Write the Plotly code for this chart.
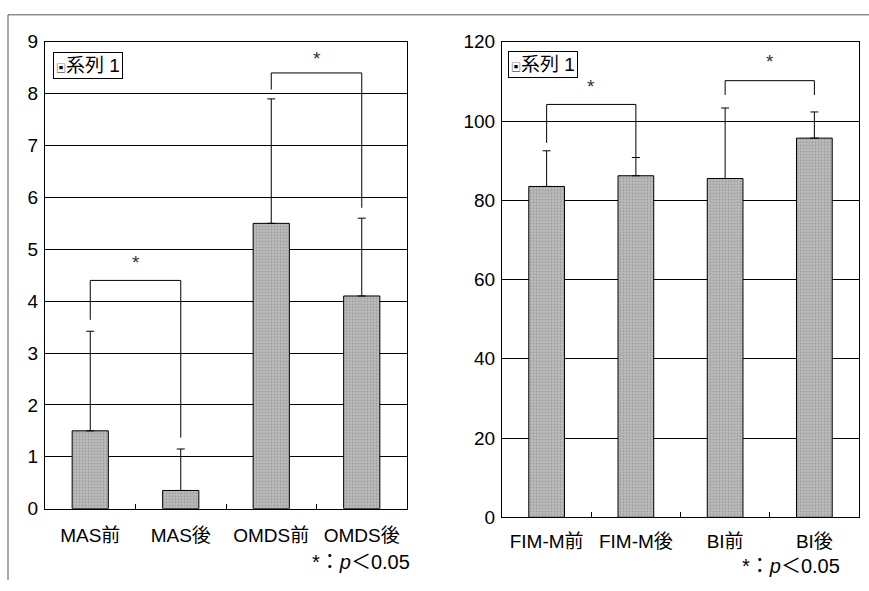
import plotly.graph_objects as go

W, H = 869, 591

# ---- data ----
left_categories = ["MAS前", "MAS後", "OMDS前", "OMDS後"]
left_means = [1.5, 0.35, 5.5, 4.1]
left_sd = [1.92, 0.8, 2.4, 1.5]
left_yticks = [0, 1, 2, 3, 4, 5, 6, 7, 8, 9]

right_categories = ["FIM-M前", "FIM-M後", "BI前", "BI後"]
right_means = [83.5, 86.2, 85.5, 95.7]
right_sd = [9.0, 4.6, 17.8, 6.6]
right_yticks = [0, 20, 40, 60, 80, 100, 120]

# significance brackets: (left index, right index, top, left leg bottom, right leg bottom, star y)
left_brackets = [(0, 1, 4.4, 3.64, 1.37, 4.74), (2, 3, 8.4, 8.08, 5.8, 8.68)]
right_brackets = [(0, 1, 104.2, 94.5, 90.8, 108.6), (2, 3, 110.2, 106.6, 106.6, 115.1)]

series_name = "系列 1"
note_text = "*：<i>p</i>＜0.05"

FONT = "Liberation Sans, Arial, Noto Sans CJK JP, sans-serif"

def px_x(p):
    return p / W

def px_y(p):
    return 1 - p / H

fig = go.Figure()

bar_marker = dict(
    color="#b0b0b0",
    line=dict(color="black", width=1),
    pattern=dict(shape=".", fgcolor="#777777", bgcolor="#bdbdbd", size=3, solidity=0.35),
)

fig.add_trace(go.Bar(
    x=left_categories, y=left_means, width=0.4, marker=bar_marker,
    error_y=dict(type="data", symmetric=False, array=left_sd, arrayminus=[0] * 4,
                 color="black", thickness=1, width=4),
    xaxis="x", yaxis="y", showlegend=False,
))
fig.add_trace(go.Bar(
    x=right_categories, y=right_means, width=0.4, marker=bar_marker,
    error_y=dict(type="data", symmetric=False, array=right_sd, arrayminus=[0] * 4,
                 color="black", thickness=1, width=4),
    xaxis="x2", yaxis="y2", showlegend=False,
))

shapes = []
annotations = []

def add_brackets(brackets, xref, yref):
    for (a, b, top, la, lb, sy) in brackets:
        shapes.append(dict(type="line", xref=xref, yref=yref, x0=a, x1=a, y0=la, y1=top,
                           line=dict(color="black", width=1)))
        shapes.append(dict(type="line", xref=xref, yref=yref, x0=a, x1=b, y0=top, y1=top,
                           line=dict(color="black", width=1)))
        shapes.append(dict(type="line", xref=xref, yref=yref, x0=b, x1=b, y0=top, y1=lb,
                           line=dict(color="black", width=1)))
        annotations.append(dict(xref=xref, yref=yref, x=(a + b) / 2, y=sy, text="*",
                                showarrow=False, font=dict(size=19, color="#333", family=FONT)))

add_brackets(left_brackets, "x", "y")
add_brackets(right_brackets, "x2", "y2")

# outer frame lines (top and left)
shapes.append(dict(type="line", xref="paper", yref="paper", x0=px_x(8), x1=1, y0=px_y(5), y1=px_y(5),
                   line=dict(color="#555", width=1)))
shapes.append(dict(type="line", xref="paper", yref="paper", x0=px_x(8), x1=px_x(8), y0=0, y1=px_y(5),
                   line=dict(color="#555", width=1)))

# legend boxes
legend_text = "<span style='font-size:10px'>▣</span>" + series_name
annotations.append(dict(xref="paper", yref="paper", x=px_x(53), y=px_y(44), xanchor="left", yanchor="top",
                        text=legend_text, showarrow=False, bordercolor="black", borderwidth=1, borderpad=2,
                        bgcolor="white", font=dict(size=19, color="black", family=FONT)))
annotations.append(dict(xref="paper", yref="paper", x=px_x(508), y=px_y(42), xanchor="left", yanchor="top",
                        text=legend_text, showarrow=False, bordercolor="black", borderwidth=1, borderpad=2,
                        bgcolor="white", font=dict(size=19, color="black", family=FONT)))

# p-value notes
annotations.append(dict(xref="paper", yref="paper", x=px_x(412), y=px_y(572), xanchor="right", yanchor="middle",
                        text=note_text, showarrow=False, font=dict(size=20, color="black", family=FONT)))
annotations.append(dict(xref="paper", yref="paper", x=px_x(842), y=px_y(577), xanchor="right", yanchor="middle",
                        text=note_text, showarrow=False, font=dict(size=20, color="black", family=FONT)))

axis_common = dict(showline=True, linecolor="black", linewidth=1, mirror=True,
                   tickfont=dict(size=19, color="black", family=FONT))

fig.update_layout(
    width=W, height=H,
    margin=dict(l=0, r=0, t=0, b=0),
    paper_bgcolor="white", plot_bgcolor="white",
    font=dict(family=FONT, color="black"),
    xaxis=dict(domain=[px_x(45), px_x(407)], anchor="y", type="category",
               tickson="boundaries", ticks="inside", ticklen=5, tickcolor="black",
               ticklabelstandoff=10, showgrid=False, **axis_common),
    yaxis=dict(domain=[px_y(517), px_y(33)], anchor="x", range=[0, 9], tickvals=left_yticks,
               showgrid=True, gridcolor="black", gridwidth=1, ticks="", zeroline=False,
               ticklabelstandoff=2, **axis_common),
    xaxis2=dict(domain=[px_x(502), px_x(859)], anchor="y2", type="category",
                tickson="boundaries", ticks="inside", ticklen=5, tickcolor="black",
                ticklabelstandoff=7, showgrid=False, **axis_common),
    yaxis2=dict(domain=[px_y(526), px_y(33)], anchor="x2", range=[0, 120], tickvals=right_yticks,
                showgrid=True, gridcolor="black", gridwidth=1, ticks="", zeroline=False,
                ticklabelstandoff=2, **axis_common),
    shapes=shapes,
    annotations=annotations,
)

fig.write_html("out.html")
